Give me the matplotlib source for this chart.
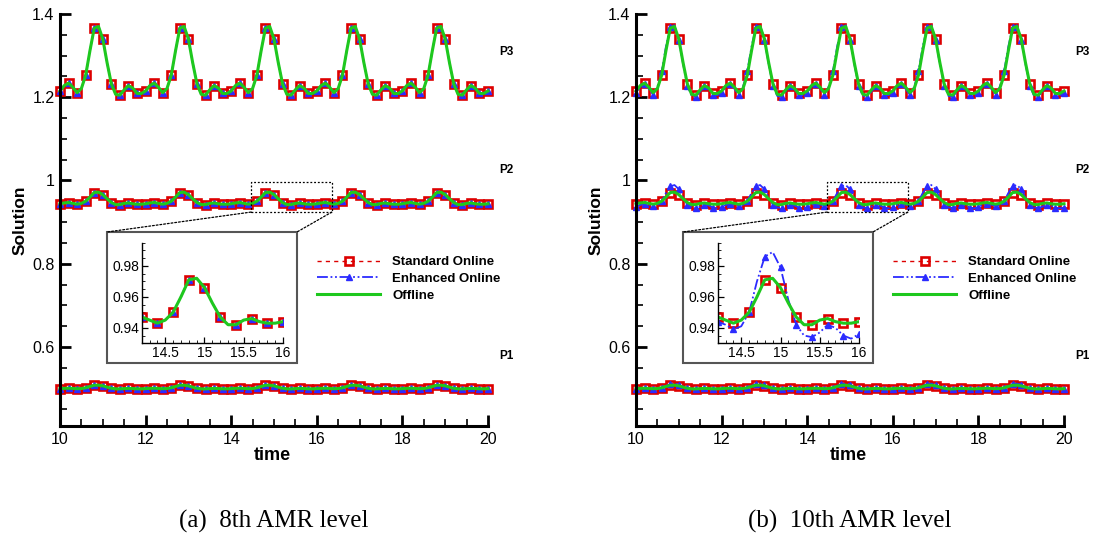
"""
Probe solutions vs time: standard online, enhanced online and offline
results at two AMR levels, with a zoomed inset around the P2 peak.
"""
import numpy as np
import matplotlib
matplotlib.use("Agg")
import matplotlib.pyplot as plt
from matplotlib.patches import Rectangle, ConnectionPatch
from matplotlib.ticker import MultipleLocator, FormatStrFormatter

RED, BLUE, GREEN, FRAME = "#DD0000", "#2B2BFF", "#1EC81E", "#555555"
plt.rcParams.update({"font.family": ["Liberation Sans", "DejaVu Sans"]})

# ---------- data (every 0.1 time unit) ----------
TIME = np.linspace(10, 20, 101)

OFFLINE_P3 = [
    1.215, 1.228, 1.234, 1.224, 1.211, 1.221, 1.253, 1.312, 1.366, 1.370,
    1.340, 1.283, 1.232, 1.207, 1.205, 1.218, 1.228, 1.222, 1.209, 1.209,
    1.215, 1.228, 1.234, 1.224, 1.211, 1.221, 1.253, 1.312, 1.366, 1.370,
    1.340, 1.283, 1.232, 1.207, 1.205, 1.218, 1.228, 1.222, 1.209, 1.209,
    1.215, 1.228, 1.234, 1.224, 1.211, 1.221, 1.253, 1.312, 1.366, 1.370,
    1.340, 1.283, 1.232, 1.207, 1.205, 1.218, 1.228, 1.222, 1.209, 1.209,
    1.215, 1.228, 1.234, 1.224, 1.211, 1.221, 1.253, 1.312, 1.366, 1.370,
    1.340, 1.283, 1.232, 1.207, 1.205, 1.218, 1.228, 1.222, 1.209, 1.209,
    1.215, 1.228, 1.234, 1.224, 1.211, 1.221, 1.253, 1.312, 1.366, 1.370,
    1.340, 1.283, 1.232, 1.207, 1.205, 1.218, 1.228, 1.222, 1.209, 1.209,
    1.215]
OFFLINE_P2 = [
    0.944, 0.946, 0.947, 0.945, 0.943, 0.945, 0.950, 0.960, 0.971, 0.972,
    0.966, 0.956, 0.947, 0.942, 0.942, 0.945, 0.946, 0.944, 0.943, 0.943,
    0.944, 0.946, 0.947, 0.945, 0.943, 0.945, 0.950, 0.960, 0.971, 0.972,
    0.966, 0.956, 0.947, 0.942, 0.942, 0.945, 0.946, 0.944, 0.943, 0.943,
    0.944, 0.946, 0.947, 0.945, 0.943, 0.945, 0.950, 0.960, 0.971, 0.972,
    0.966, 0.956, 0.947, 0.942, 0.942, 0.945, 0.946, 0.944, 0.943, 0.943,
    0.944, 0.946, 0.947, 0.945, 0.943, 0.945, 0.950, 0.960, 0.971, 0.972,
    0.966, 0.956, 0.947, 0.942, 0.942, 0.945, 0.946, 0.944, 0.943, 0.943,
    0.944, 0.946, 0.947, 0.945, 0.943, 0.945, 0.950, 0.960, 0.971, 0.972,
    0.966, 0.956, 0.947, 0.942, 0.942, 0.945, 0.946, 0.944, 0.943, 0.943,
    0.944]
OFFLINE_P1 = [
    0.4998, 0.5005, 0.5008, 0.5003, 0.4996, 0.5001, 0.5018, 0.5050, 0.5079, 0.5081,
    0.5065, 0.5034, 0.5007, 0.4993, 0.4992, 0.4999, 0.5005, 0.5001, 0.4994, 0.4994,
    0.4998, 0.5005, 0.5008, 0.5003, 0.4996, 0.5001, 0.5018, 0.5050, 0.5079, 0.5081,
    0.5065, 0.5034, 0.5007, 0.4993, 0.4992, 0.4999, 0.5005, 0.5001, 0.4994, 0.4994,
    0.4998, 0.5005, 0.5008, 0.5003, 0.4996, 0.5001, 0.5018, 0.5050, 0.5079, 0.5081,
    0.5065, 0.5034, 0.5007, 0.4993, 0.4992, 0.4999, 0.5005, 0.5001, 0.4994, 0.4994,
    0.4998, 0.5005, 0.5008, 0.5003, 0.4996, 0.5001, 0.5018, 0.5050, 0.5079, 0.5081,
    0.5065, 0.5034, 0.5007, 0.4993, 0.4992, 0.4999, 0.5005, 0.5001, 0.4994, 0.4994,
    0.4998, 0.5005, 0.5008, 0.5003, 0.4996, 0.5001, 0.5018, 0.5050, 0.5079, 0.5081,
    0.5065, 0.5034, 0.5007, 0.4993, 0.4992, 0.4999, 0.5005, 0.5001, 0.4994, 0.4994,
    0.4998]

# standard online sits on the offline curve at both levels,
# enhanced online matches at level 8 but overshoots at level 10
STANDARD = {"P3": OFFLINE_P3, "P2": OFFLINE_P2, "P1": OFFLINE_P1}
ENHANCED_8 = {"P3": OFFLINE_P3, "P2": OFFLINE_P2, "P1": OFFLINE_P1}

ENHANCED_10_P3 = [
    1.211, 1.225, 1.232, 1.220, 1.206, 1.225, 1.262, 1.322, 1.368, 1.373,
    1.338, 1.280, 1.228, 1.203, 1.201, 1.214, 1.226, 1.220, 1.206, 1.205,
    1.211, 1.225, 1.232, 1.220, 1.206, 1.225, 1.262, 1.322, 1.368, 1.373,
    1.338, 1.280, 1.228, 1.203, 1.201, 1.214, 1.226, 1.220, 1.206, 1.205,
    1.211, 1.225, 1.232, 1.220, 1.206, 1.225, 1.262, 1.322, 1.368, 1.373,
    1.338, 1.280, 1.228, 1.203, 1.201, 1.214, 1.226, 1.220, 1.206, 1.205,
    1.211, 1.225, 1.232, 1.220, 1.206, 1.225, 1.262, 1.322, 1.368, 1.373,
    1.338, 1.280, 1.228, 1.203, 1.201, 1.214, 1.226, 1.220, 1.206, 1.205,
    1.211, 1.225, 1.232, 1.220, 1.206, 1.225, 1.262, 1.322, 1.368, 1.373,
    1.338, 1.280, 1.228, 1.203, 1.201, 1.214, 1.226, 1.220, 1.206, 1.205,
    1.211]
ENHANCED_10_P2 = [
    0.936, 0.941, 0.944, 0.942, 0.939, 0.941, 0.950, 0.970, 0.986, 0.989,
    0.979, 0.958, 0.942, 0.935, 0.934, 0.937, 0.942, 0.940, 0.935, 0.933,
    0.936, 0.941, 0.944, 0.942, 0.939, 0.941, 0.950, 0.970, 0.986, 0.989,
    0.979, 0.958, 0.942, 0.935, 0.934, 0.937, 0.942, 0.940, 0.935, 0.933,
    0.936, 0.941, 0.944, 0.942, 0.939, 0.941, 0.950, 0.970, 0.986, 0.989,
    0.979, 0.958, 0.942, 0.935, 0.934, 0.937, 0.942, 0.940, 0.935, 0.933,
    0.936, 0.941, 0.944, 0.942, 0.939, 0.941, 0.950, 0.970, 0.986, 0.989,
    0.979, 0.958, 0.942, 0.935, 0.934, 0.937, 0.942, 0.940, 0.935, 0.933,
    0.936, 0.941, 0.944, 0.942, 0.939, 0.941, 0.950, 0.970, 0.986, 0.989,
    0.979, 0.958, 0.942, 0.935, 0.934, 0.937, 0.942, 0.940, 0.935, 0.933,
    0.935]
ENHANCED_10_P1 = [
    0.4995, 0.5005, 0.5010, 0.5003, 0.4993, 0.5000, 0.5022, 0.5065, 0.5110, 0.5118,
    0.5095, 0.5045, 0.5005, 0.4988, 0.4986, 0.4995, 0.5003, 0.4998, 0.4988, 0.4987,
    0.4995, 0.5005, 0.5010, 0.5003, 0.4993, 0.5000, 0.5022, 0.5065, 0.5110, 0.5118,
    0.5095, 0.5045, 0.5005, 0.4988, 0.4986, 0.4995, 0.5003, 0.4998, 0.4988, 0.4987,
    0.4995, 0.5005, 0.5010, 0.5003, 0.4993, 0.5000, 0.5022, 0.5065, 0.5110, 0.5118,
    0.5095, 0.5045, 0.5005, 0.4988, 0.4986, 0.4995, 0.5003, 0.4998, 0.4988, 0.4987,
    0.4995, 0.5005, 0.5010, 0.5003, 0.4993, 0.5000, 0.5022, 0.5065, 0.5110, 0.5118,
    0.5095, 0.5045, 0.5005, 0.4988, 0.4986, 0.4995, 0.5003, 0.4998, 0.4988, 0.4987,
    0.4995, 0.5005, 0.5010, 0.5003, 0.4993, 0.5000, 0.5022, 0.5065, 0.5110, 0.5118,
    0.5095, 0.5045, 0.5005, 0.4988, 0.4986, 0.4995, 0.5003, 0.4998, 0.4988, 0.4987,
    0.4995]
ENHANCED_10 = {"P3": ENHANCED_10_P3, "P2": ENHANCED_10_P2, "P1": ENHANCED_10_P1}
OFFLINE = {"P3": OFFLINE_P3, "P2": OFFLINE_P2, "P1": OFFLINE_P1}

PROBES = ["P3", "P2", "P1"]
PROBE_LABEL_Y = [1.309, 1.026, 0.578]
ZOOM_BOX = (14.46, 0.924, 16.35, 0.996)
CAPTIONS = ["(a)  8th AMR level", "(b)  10th AMR level"]
LABELS = ["Standard Online", "Enhanced Online", "Offline"]

W, H = 1104, 538


def box(x0, y0, x1, y1, dx=0):
    # pixel box (origin top-left) -> figure rect
    return [(x0 + dx) / W, 1 - y1 / H, (x1 - x0) / W, (y1 - y0) / H]


def draw(ax, std, enh, off, clip=False):
    lines = []
    lines += ax.plot(TIME, std, color=RED, lw=1, ls=(0, (3, 3)), marker="s", ms=5.2,
                     mfc="none", mec=RED, mew=1.9, markevery=2, clip_on=clip)
    lines += ax.plot(TIME, enh, color=BLUE, lw=1.3, ls=(0, (6, 1.5, 1, 1.5, 1, 1.5)),
                     marker="^", ms=4, mfc=BLUE, mec=BLUE, markevery=2, clip_on=clip)
    lines += ax.plot(TIME, off, color=GREEN, lw=2.2, clip_on=clip)
    return lines


def style(ax, major_len, minor_len, major_w, minor_w, spine_w):
    for s in ("top", "right"):
        ax.spines[s].set_visible(False)
    for s in ("left", "bottom"):
        ax.spines[s].set_linewidth(spine_w)
    ax.tick_params(which="major", direction="in", length=major_len, width=major_w)
    ax.tick_params(which="minor", direction="in", length=minor_len, width=minor_w)


fig = plt.figure(figsize=(W / 100, H / 100), dpi=100)

for k, enhanced in enumerate([ENHANCED_8, ENHANCED_10]):
    dx = 576 * k
    ax = fig.add_axes(box(60, 14, 488, 426, dx))
    handles = None
    for p in PROBES:
        ls = draw(ax, STANDARD[p], enhanced[p], OFFLINE[p])
        handles = handles or ls
    ax.set_xlim(10, 20)
    ax.set_ylim(0.41, 1.4)
    ax.xaxis.set_major_locator(MultipleLocator(2))
    ax.xaxis.set_minor_locator(MultipleLocator(0.5))
    ax.yaxis.set_major_locator(MultipleLocator(0.2))
    ax.yaxis.set_minor_locator(MultipleLocator(0.05))
    ax.yaxis.set_major_formatter(FormatStrFormatter("%g"))
    style(ax, 8, 5, 2, 1.2, 2.2)
    ax.tick_params(labelsize=11.5, pad=4)
    for p, y in zip(PROBES, PROBE_LABEL_Y):
        ax.text(20.44, y, p, fontsize=8.5, fontweight="bold", ha="center", va="center")

    x0, y0, x1, y1 = ZOOM_BOX
    ax.add_patch(Rectangle((x0, y0), x1 - x0, y1 - y0, fill=False, ec="k",
                           lw=0.9, ls=(0, (1.5, 1.5)), zorder=5))

    ax.legend(handles, LABELS, loc="upper left", bbox_to_anchor=((317 + dx) / W, 1 - 256 / H),
              bbox_transform=fig.transFigure, frameon=False, numpoints=1,
              prop={"weight": "bold", "size": 9.5}, handlelength=4.8,
              handletextpad=0.9, labelspacing=0.35, borderpad=0, borderaxespad=0)

    fig.text((20 + dx) / W, 1 - 220 / H, "Solution", rotation=90, fontsize=12.5,
             fontweight="bold", ha="center", va="center")
    fig.text((272 + dx) / W, 1 - 455 / H, "time", fontsize=13,
             fontweight="bold", ha="center", va="center")
    fig.text((274 + dx) / W, 1 - 521 / H, CAPTIONS[k], fontsize=18,
             family=["Liberation Serif", "DejaVu Serif"], ha="center", va="center")

    # inset frame + connectors
    fr = box(107, 232, 297, 363, dx)
    fig.add_artist(Rectangle((fr[0], fr[1]), fr[2], fr[3], transform=fig.transFigure,
                             fc="white", ec=FRAME, lw=1.5, zorder=3))
    for xa, xb in [(x0, fr[0]), (x1, fr[0] + fr[2])]:
        fig.add_artist(ConnectionPatch(xyA=(xa, y0), coordsA=ax.transData,
                                       xyB=(xb, fr[1] + fr[3]), coordsB=fig.transFigure,
                                       color="k", lw=0.9, ls=(0, (1.5, 1.5)), zorder=3))

    ins = fig.add_axes(box(141.7, 242.7, 283, 343.3, dx), zorder=4)
    ins.patch.set_alpha(0)
    draw(ins, STANDARD["P2"], enhanced["P2"], OFFLINE["P2"], clip=True)
    ins.set_xlim(14.2, 16)
    ins.set_ylim(0.93, 0.995)
    ins.xaxis.set_major_locator(MultipleLocator(0.5))
    ins.xaxis.set_minor_locator(MultipleLocator(0.1))
    ins.yaxis.set_major_locator(MultipleLocator(0.02))
    ins.yaxis.set_minor_locator(MultipleLocator(0.005))
    ins.xaxis.set_major_formatter(FormatStrFormatter("%g"))
    ins.yaxis.set_major_formatter(FormatStrFormatter("%g"))
    style(ins, 4, 2.5, 0.9, 0.6, 1.0)
    ins.tick_params(labelsize=10, pad=2)

fig.savefig("out.png", dpi=100)
